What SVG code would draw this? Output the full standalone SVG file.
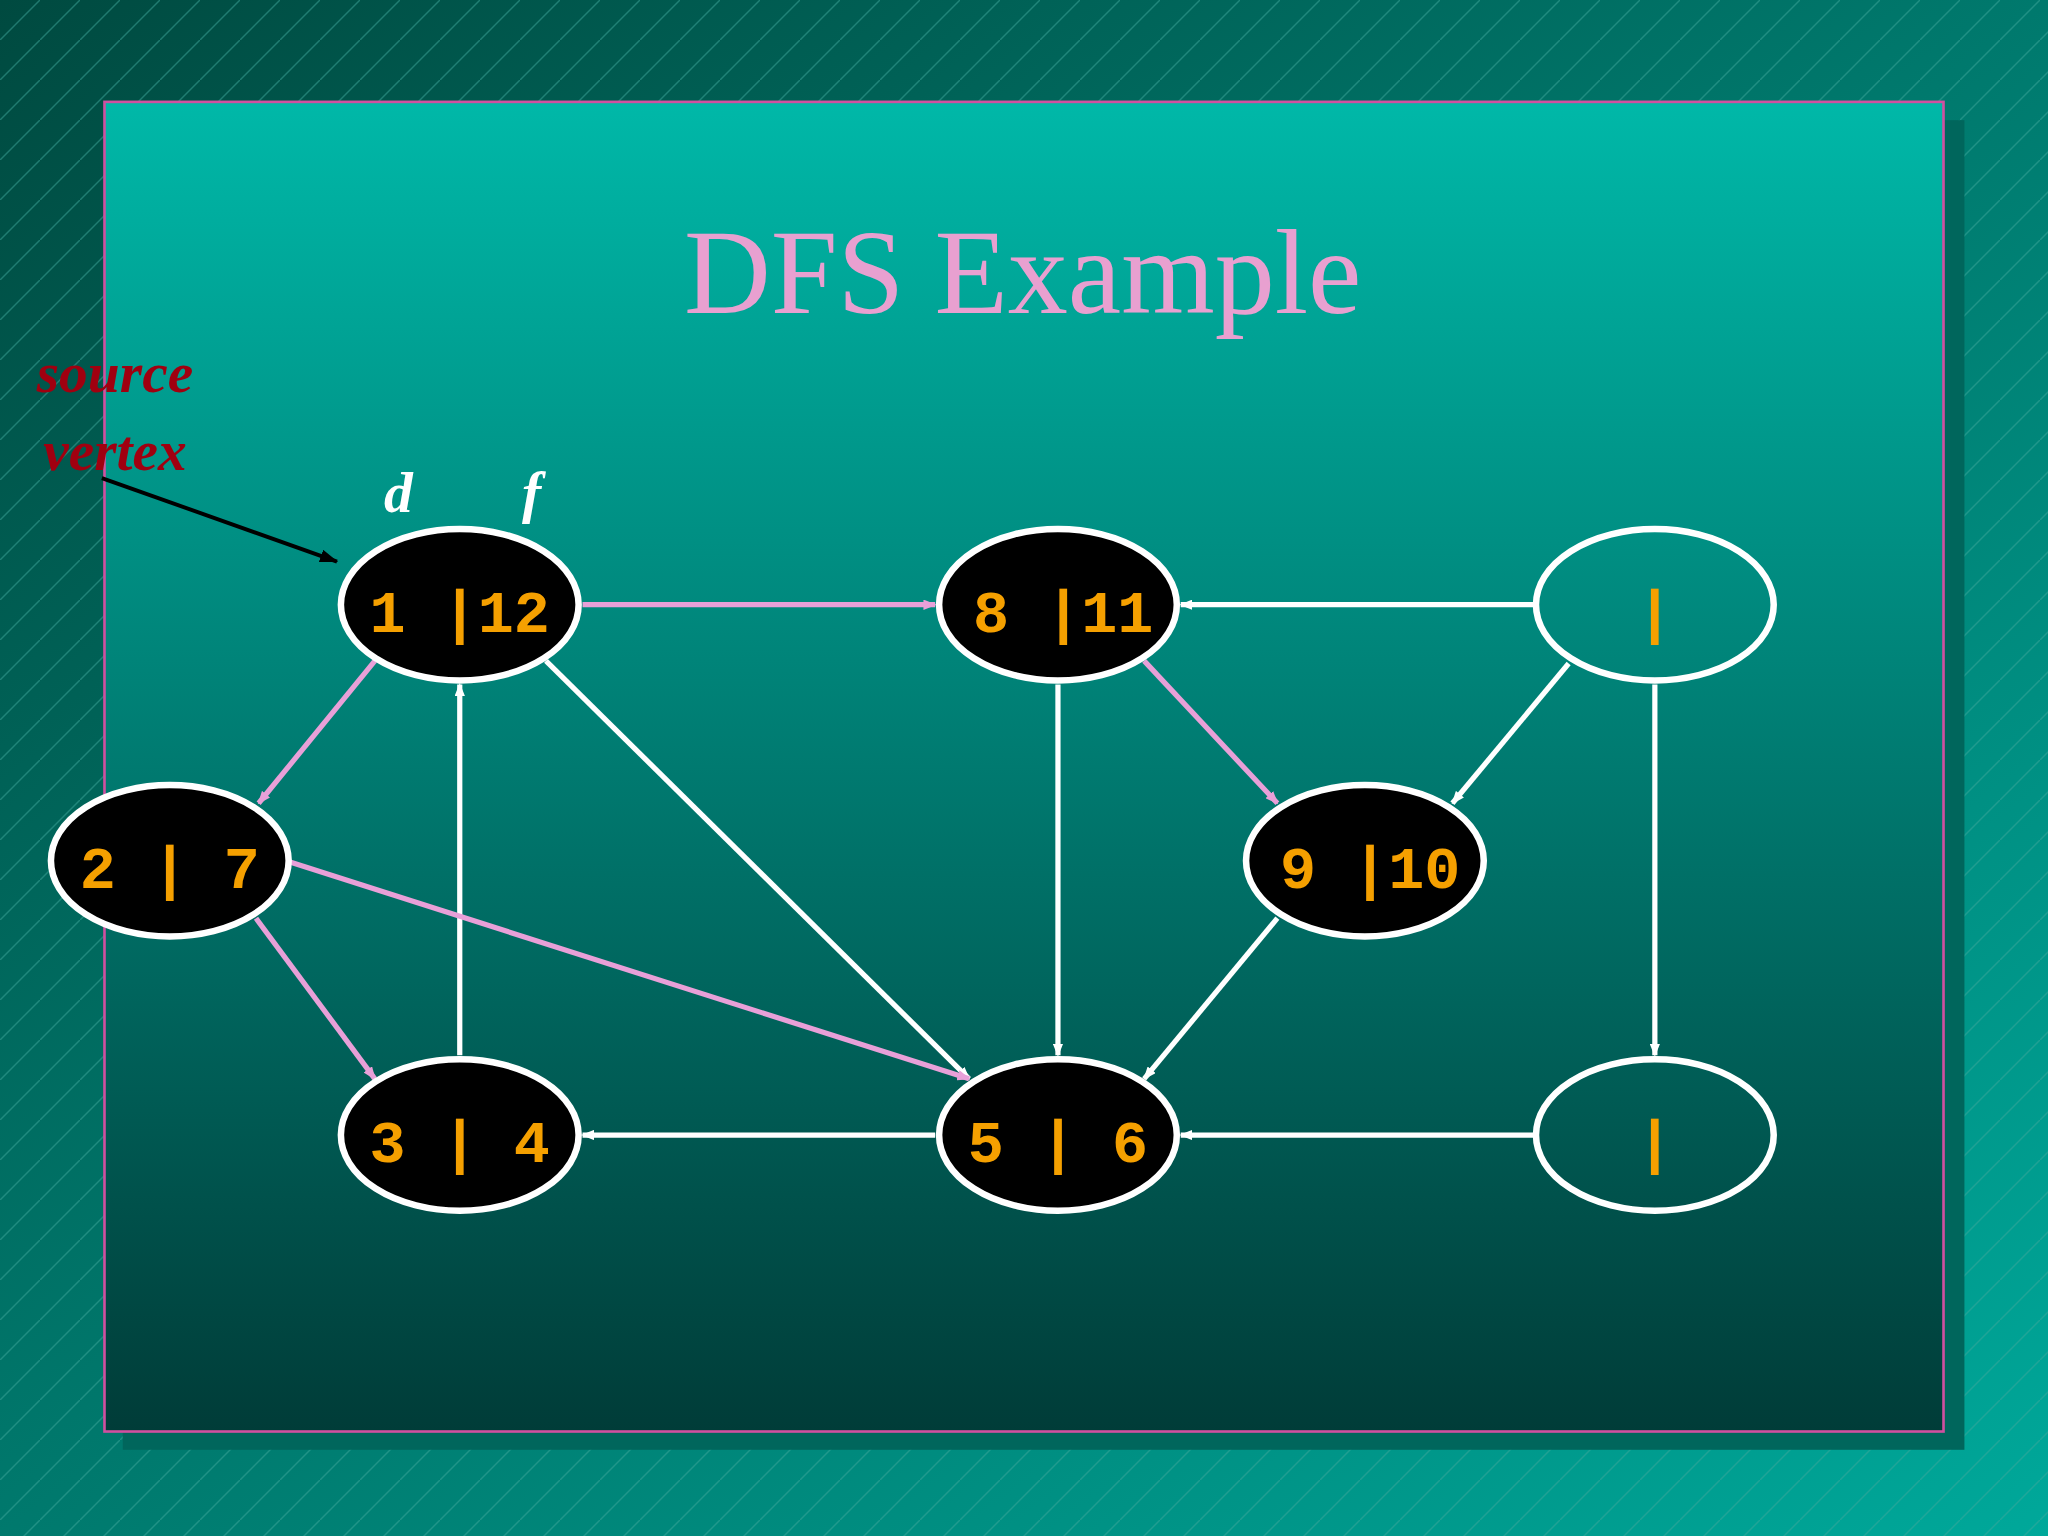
<svg xmlns="http://www.w3.org/2000/svg" width="2048" height="1536" viewBox="0 0 2048 1536">
<style>
.node ellipse{stroke:#fff;stroke-width:5}
.lbl{font-family:"Liberation Mono",monospace;font-weight:bold;font-size:46px;fill:#f5a000;text-anchor:middle}
.w{stroke:#fff;stroke-width:4;fill:none;marker-end:url(#aw)}
.p{stroke:#e8a0d8;stroke-width:4;fill:none;marker-end:url(#ap)}
</style>
<defs>
<linearGradient id="bg" x1="0" y1="0" x2="1" y2="1"><stop offset="0" stop-color="#004a40"/><stop offset="1" stop-color="#00a89a"/></linearGradient>
<linearGradient id="pn" x1="0" y1="0" x2="0" y2="1"><stop offset="0" stop-color="#00b8a8"/><stop offset="1" stop-color="#003c38"/></linearGradient>
<pattern id="st" width="40" height="40" patternUnits="userSpaceOnUse"><path d="M0 40 L40 0" stroke="#3fa89c" stroke-width="1.5" opacity="0.5"/></pattern>
<marker id="aw" markerWidth="10" markerHeight="8" refX="9" refY="4" orient="auto" markerUnits="userSpaceOnUse"><path d="M0 0 L10 4 L0 8z" fill="#fff"/></marker>
<marker id="ap" markerWidth="10" markerHeight="8" refX="9" refY="4" orient="auto" markerUnits="userSpaceOnUse"><path d="M0 0 L10 4 L0 8z" fill="#e8a0d8"/></marker>
<marker id="ab" markerWidth="14" markerHeight="10" refX="13" refY="5" orient="auto" markerUnits="userSpaceOnUse"><path d="M0 0 L14 5 L0 10z" fill="#000"/></marker>
</defs>
<rect width="2048" height="1536" fill="url(#bg)"/>
<rect width="2048" height="1536" fill="url(#st)"/>
<g transform="scale(1.30612)">
<rect x="94" y="92" width="1410" height="1018" fill="#00665c"/>
<rect x="80" y="78" width="1408" height="1018" fill="url(#pn)" stroke="#d050a0" stroke-width="2"/>
<text x="783" y="240" font-family="Liberation Serif,serif" font-size="92" fill="#e8a0d0" text-anchor="middle">DFS Example</text>
<text x="88" y="300" font-family="Liberation Serif,serif" font-size="44" font-weight="bold" font-style="italic" fill="#a00010" text-anchor="middle">source</text>
<text x="88" y="360" font-family="Liberation Serif,serif" font-size="44" font-weight="bold" font-style="italic" fill="#a00010" text-anchor="middle">vertex</text>
<text x="305" y="392" font-family="Liberation Serif,serif" font-size="44" font-weight="bold" font-style="italic" fill="#fff" text-anchor="middle">d</text>
<text x="407" y="392" font-family="Liberation Serif,serif" font-size="44" font-weight="bold" font-style="italic" fill="#fff" text-anchor="middle">f</text>
<g id="connectors">
<line x1="78" y1="366" x2="258" y2="430" stroke="#000" stroke-width="3" marker-end="url(#ab)"/>
<line class="p" x1="446" y1="463" x2="716" y2="463"/>
<line class="w" x1="1174" y1="463" x2="904" y2="463"/>
<line class="p" x1="287" y1="506" x2="198" y2="615"/>
<line class="w" x1="418" y1="506" x2="742" y2="826"/>
<line class="w" x1="352" y1="808" x2="352" y2="524"/>
<line class="p" x1="196" y1="703" x2="287" y2="826"/>
<line class="p" x1="222" y1="660" x2="742" y2="826"/>
<line class="w" x1="810" y1="524" x2="810" y2="808"/>
<line class="p" x1="876" y1="506" x2="978" y2="615"/>
<line class="w" x1="1201" y1="508" x2="1112" y2="615"/>
<line class="w" x1="978" y1="703" x2="876" y2="826"/>
<line class="w" x1="1267" y1="524" x2="1267" y2="808"/>
<line class="w" x1="716" y1="869" x2="446" y2="869"/>
<line class="w" x1="1174" y1="869" x2="904" y2="869"/>
</g>
<g id="n1" class="node"><ellipse cx="352" cy="463" rx="91" ry="58" fill="#000"/><text class="lbl" x="352" y="484">1  |12</text></g>
<g id="n8" class="node"><ellipse cx="810" cy="463" rx="91" ry="58" fill="#000"/><text class="lbl" x="814" y="484">8  |11</text></g>
<g id="nr1" class="node"><ellipse cx="1267" cy="463" rx="91" ry="58" fill="none"/><text class="lbl" x="1267" y="484">|</text></g>
<g id="n2" class="node"><ellipse cx="130" cy="659" rx="91" ry="58" fill="#000"/><text class="lbl" x="130" y="680">2  |  7</text></g>
<g id="n9" class="node"><ellipse cx="1045" cy="659" rx="91" ry="58" fill="#000"/><text class="lbl" x="1049" y="680">9  |10</text></g>
<g id="n3" class="node"><ellipse cx="352" cy="869" rx="91" ry="58" fill="#000"/><text class="lbl" x="352" y="890">3  |  4</text></g>
<g id="n5" class="node"><ellipse cx="810" cy="869" rx="91" ry="58" fill="#000"/><text class="lbl" x="810" y="890">5  |  6</text></g>
<g id="nr2" class="node"><ellipse cx="1267" cy="869" rx="91" ry="58" fill="none"/><text class="lbl" x="1267" y="890">|</text></g>
</g>
</svg>
